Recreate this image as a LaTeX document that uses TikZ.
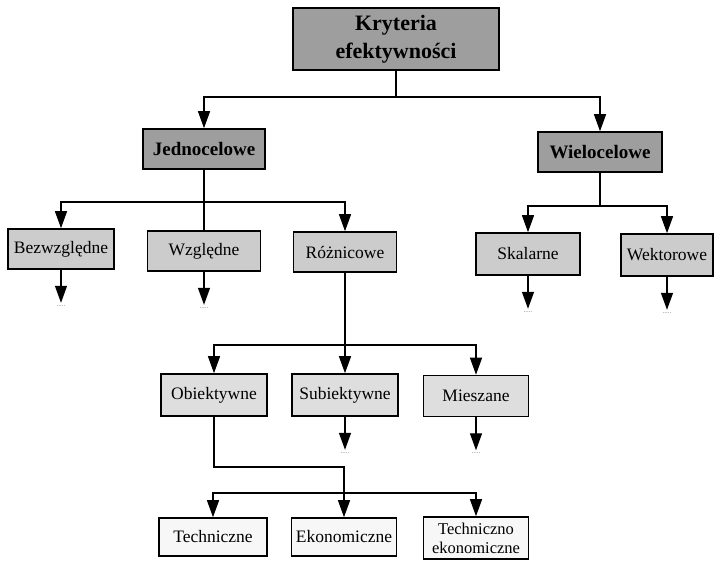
\documentclass[tikz,border=0pt]{standalone}
\usepackage{fontspec}
\setmainfont{Liberation Serif}
\usetikzlibrary{arrows.meta}

\definecolor{darkbox}{gray}{0.62}
\definecolor{midbox}{gray}{0.80}
\definecolor{lightbox}{gray}{0.87}
\definecolor{palebox}{gray}{0.97}

\tikzset{
  box/.style={draw, line width=1.6pt, minimum width=106pt, minimum height=40pt,
    inner sep=1pt, align=center, font=\fontsize{17.5}{20}\selectfont},
  mainbox/.style={box, fill=darkbox, font=\fontsize{19}{24}\selectfont\bfseries},
  arr/.style={-{Triangle[length=17pt,width=12pt]}},
  dots/.style={below, inner sep=2pt, text=black!55, font=\fontsize{7}{7}\selectfont}
}

\begin{document}
\begin{tikzpicture}[x=1pt, y=-1pt, line width=1.3pt]
        \useasboundingbox (0,0) rectangle (714,560);

        \node [mainbox, minimum width=206pt, minimum height=62pt,
          font=\fontsize{22}{28}\selectfont\bfseries] (kryt) at (396,39)
          {Kryteria\\efektywności};
        \node [mainbox, minimum width=122pt] (jedno) at (204,149) {Jednocelowe};
        \node [mainbox, minimum width=124pt] (wielo) at (600,152) {Wielocelowe};

        \node [box, fill=midbox] (bezw) at (61,249) {Bezwzględne};
        \node [box, fill=midbox, minimum width=113pt] (wzgl) at (204,251) {Względne};
        \node [box, fill=midbox, minimum width=103pt] (rozn) at (345,252) {Różnicowe};
        \node [box, fill=midbox, minimum width=104pt, minimum height=42pt] (skal) at (528,254) {Skalarne};
        \node [box, fill=midbox, minimum width=92pt, minimum height=42pt] (wekt) at (667,255) {Wektorowe};

        \node [box, fill=lightbox, minimum height=42pt] (obie) at (214,395) {Obiektywne};
        \node [box, fill=lightbox, minimum height=42pt] (subi) at (345,395) {Subiektywne};
        \node [box, fill=lightbox, minimum width=105pt, minimum height=41pt] (mies) at (476,396) {Mieszane};

        \node [box, fill=palebox, minimum width=108pt, minimum height=38pt] (tech) at (213,537) {Techniczne};
        \node [box, fill=palebox, minimum width=105pt, minimum height=38pt] (ekon) at (344,537) {Ekonomiczne};
        \node [box, fill=palebox, minimum width=105pt, minimum height=42pt,
          font=\fontsize{16.5}{19}\selectfont] (tekon) at (476,538) {Techniczno\\ekonomiczne};

        \coordinate (k0) at (396,97);
        \coordinate (j0) at (204,202);
        \coordinate (w0) at (600,206);
        \coordinate (r0) at (345,345);
        \coordinate (o0) at (344,467);
        \coordinate (o1) at (344,493);

        \draw [-] (kryt.south) -- (k0);
        \draw [arr] (k0) -| (jedno.north);
        \draw [arr] (k0) -| (wielo.north);

        \draw [-] (jedno.south) -- (j0);
        \draw [arr] (j0) -| (bezw.north);
        \draw [-] (j0) -- (wzgl.north);
        \draw [arr] (j0) -| (rozn.north);

        \draw [-] (wielo.south) -- (w0);
        \draw [arr] (w0) -| (skal.north);
        \draw [arr] (w0) -| (wekt.north);

        \draw [-] (rozn.south) -- (r0);
        \draw [arr] (r0) -| (obie.north);
        \draw [arr] (r0) -- (subi.north);
        \draw [arr] (r0) -| (mies.north);

        \draw [-] (obie.south) |- (o0) -- (o1);
        \draw [arr] (o1) -| (tech.north);
        \draw [arr] (o1) -- (ekon.north);
        \draw [arr] (o1) -| (tekon.north);

        \foreach \n in {bezw, wzgl, skal, wekt, subi, mies}
          \draw [arr] (\n.south) -- ++(0,33) node [dots] {.....};
\end{tikzpicture}
\end{document}
